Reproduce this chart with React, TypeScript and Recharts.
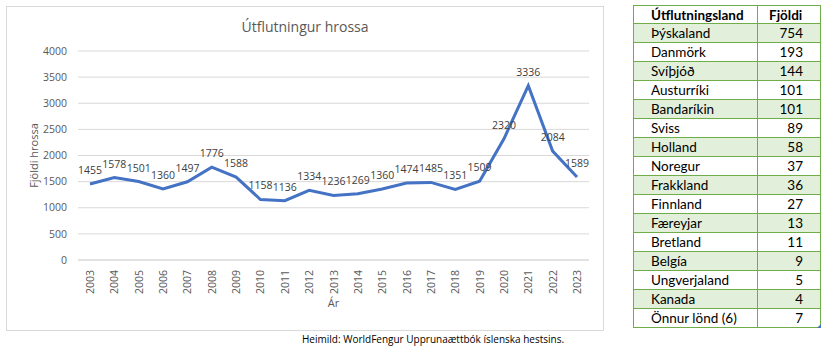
import React from 'react';
import { LineChart, Line, XAxis, YAxis, CartesianGrid, LabelList } from 'recharts';

const years = ['2003','2004','2005','2006','2007','2008','2009','2010','2011','2012','2013','2014','2015','2016','2017','2018','2019','2020','2021','2022','2023'];
const horses = [1455,1578,1501,1360,1497,1776,1588,1158,1136,1334,1236,1269,1360,1474,1485,1351,1509,2320,3336,2084,1589];
const yTicks = [0,500,1000,1500,2000,2500,3000,3500,4000];

const countries = ['Þýskaland','Danmörk','Svíþjóð','Austurríki','Bandaríkin','Sviss','Holland','Noregur','Frakkland','Finnland','Færeyjar','Bretland','Belgía','Ungverjaland','Kanada','Önnur lönd (6)'];
const counts = [754,193,144,101,101,89,58,37,36,27,13,11,9,5,4,7];

const data = years.map((y, i) => ({ year: y, v: horses[i] }));

const FONT = '"Open Sans", "Noto Sans", sans-serif';
const TFONT = 'Lato, "Open Sans", sans-serif';

const XTick = (props: any) => {
  const { x, y, payload } = props;
  return (
    <text x={x} y={y} transform={`rotate(-90 ${x} ${y})`} textAnchor="end" dominantBaseline="central"
      fontFamily={FONT} fontSize={10.5} fill="#595959">{payload.value}</text>
  );
};

const YLabel = (props: any) => {
  const vb = props.viewBox || {};
  const x = (vb.x || 0) + 33;
  const y = (vb.y || 0) + (vb.height || 0) / 2;
  return (
    <text x={x} y={y} transform={`rotate(-90 ${x} ${y})`} textAnchor="middle" dominantBaseline="central"
      fontFamily={FONT} fontSize={11} fill="#595959">Fjöldi hrossa</text>
  );
};

export default function App() {
  const cellBorder = '1px solid #70AD47';
  return (
    <div style={{ position: 'absolute', left: 0, top: 0, width: 825, height: 355, background: '#fff', overflow: 'hidden' }}>
      <div style={{ position: 'absolute', left: 6, top: 6, width: 596, height: 323, border: '1px solid #d9d9d9' }} />
      <div style={{ position: 'absolute', left: 6, top: 17, width: 598, textAlign: 'center', fontFamily: FONT, fontSize: 14, color: '#595959' }}>Útflutningur hrossa</div>
      <div style={{ position: 'absolute', left: 0, top: 0 }}>
        <LineChart width={603} height={330} data={data} margin={{ top: 51, right: 14, bottom: 30, left: 0 }}>
          <CartesianGrid vertical={false} stroke="#d9d9d9" />
          <XAxis dataKey="year" height={40} axisLine={{ stroke: '#d9d9d9' }} tickLine={false} tickMargin={4} tick={<XTick />} interval={0}
            padding={{ left: 12, right: 12 }}
            label={{ value: 'Ár', position: 'bottom', offset: -1, fill: '#595959', fontFamily: FONT, fontSize: 11 }} />
          <YAxis width={78} domain={[0, 4000]} ticks={yTicks} axisLine={false} tickLine={false} tickMargin={5}
            tick={{ fill: '#595959', fontFamily: FONT, fontSize: 10.5 }} label={<YLabel />} />
          <Line type="linear" dataKey="v" stroke="#4472C4" strokeWidth={3} dot={false} isAnimationActive={false}>
            <LabelList dataKey="v" position="top" offset={10} fill="#404040" fontFamily={FONT} fontSize={10.5} />
          </Line>
        </LineChart>
      </div>
      <div style={{ position: 'absolute', left: 302, top: 332, fontFamily: FONT, fontSize: 10, color: '#000' }}>Heimild: WorldFengur Upprunaættbók íslenska hestsins.</div>
      <table style={{ position: 'absolute', left: 633, top: 5, width: 188, borderCollapse: 'collapse', fontFamily: TFONT, fontSize: 13.5, color: '#000' }}>
        <tbody>
          <tr style={{ height: 18 }}>
            <td style={{ border: cellBorder, padding: '0 0 0 17px', fontWeight: 'bold', width: 106 }}>Útflutningsland</td>
            <td style={{ border: cellBorder, padding: '0 0 0 11px', fontWeight: 'bold' }}>Fjöldi</td>
          </tr>
          {countries.map((c, i) => (
            <tr key={c} style={{ height: 19, background: i % 2 === 0 ? '#E2EFDA' : '#fff' }}>
              <td style={{ border: cellBorder, padding: '0 0 0 17px' }}>{c}</td>
              <td style={{ border: cellBorder, padding: '0 17px 0 0', textAlign: 'right' }}>{counts[i]}</td>
            </tr>
          ))}
        </tbody>
      </table>
      <div style={{ position: 'absolute', left: 817, top: 324, width: 0, height: 0, borderLeft: '4px solid transparent', borderBottom: '4px solid #4472C4' }} />
    </div>
  );
}
